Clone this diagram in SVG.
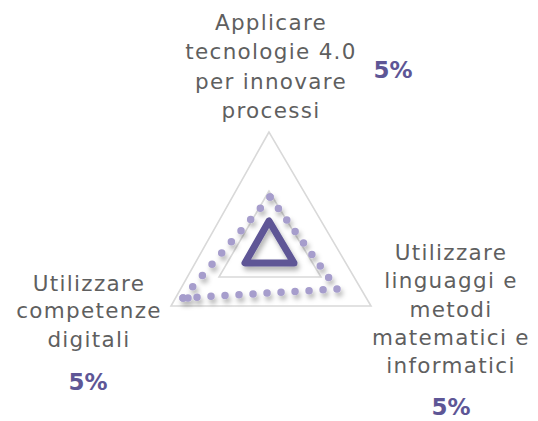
<svg xmlns="http://www.w3.org/2000/svg" width="538" height="421" viewBox="0 0 538 421">
<style>
.lbl{font-family:"DejaVu Sans","Liberation Sans",sans-serif;font-size:21.5px;fill:#5f5f5f;text-anchor:middle;letter-spacing:1.3px}
.pct{font-family:"DejaVu Sans","Liberation Sans",sans-serif;font-size:23px;font-weight:bold;fill:#5e5696;text-anchor:middle}
.tri{fill:none;stroke:#d9d9d9;stroke-width:1.6}
.dots{fill:none;stroke:#a69dcc;stroke-width:7.5;stroke-linecap:round}
</style>
<defs>
<filter id="sh" x="-20%" y="-20%" width="150%" height="150%">
<feDropShadow dx="2" dy="4" stdDeviation="2.5" flood-color="#000" flood-opacity="0.3"/>
</filter>
</defs>
<rect width="538" height="421" fill="#fff"/>
<g id="shapes">
<polygon class="tri" points="269,132 171,306 371,306"/>
<polygon class="tri" points="269,191 219,277 321,277"/>
<g filter="url(#sh)">
<path class="dots" d="M270,197 L183,298" stroke-dasharray="0 14.8"/>
<path class="dots" d="M183,298 L337,289" stroke-dasharray="0 14.03"/>
<path class="dots" d="M337,289 L270,197" stroke-dasharray="0 14.22"/>
<circle cx="188" cy="298" r="3.75" fill="#a69dcc"/>
</g>
<polygon points="269,221 245,263 294,263" fill="none" stroke="#5e5696" stroke-width="7" stroke-linejoin="round" filter="url(#sh)"/>
</g>
<g id="node-top">
<text class="lbl" x="271" y="30">Applicare</text>
<text class="lbl" x="271" y="59">tecnologie 4.0</text>
<text class="lbl" x="271" y="89">per innovare</text>
<text class="lbl" x="271" y="118">processi</text>
<text class="pct" x="393" y="78">5%</text>
</g>
<g id="node-left">
<text class="lbl" x="89" y="291">Utilizzare</text>
<text class="lbl" x="89" y="318">competenze</text>
<text class="lbl" x="89" y="347">digitali</text>
<text class="pct" x="88" y="390">5%</text>
</g>
<g id="node-right">
<text class="lbl" x="451" y="260">Utilizzare</text>
<text class="lbl" x="451" y="288">linguaggi e</text>
<text class="lbl" x="451" y="317">metodi</text>
<text class="lbl" x="451" y="345">matematici e</text>
<text class="lbl" x="451" y="373">informatici</text>
<text class="pct" x="451" y="415">5%</text>
</g>
<g id="connectors"/>
</svg>
